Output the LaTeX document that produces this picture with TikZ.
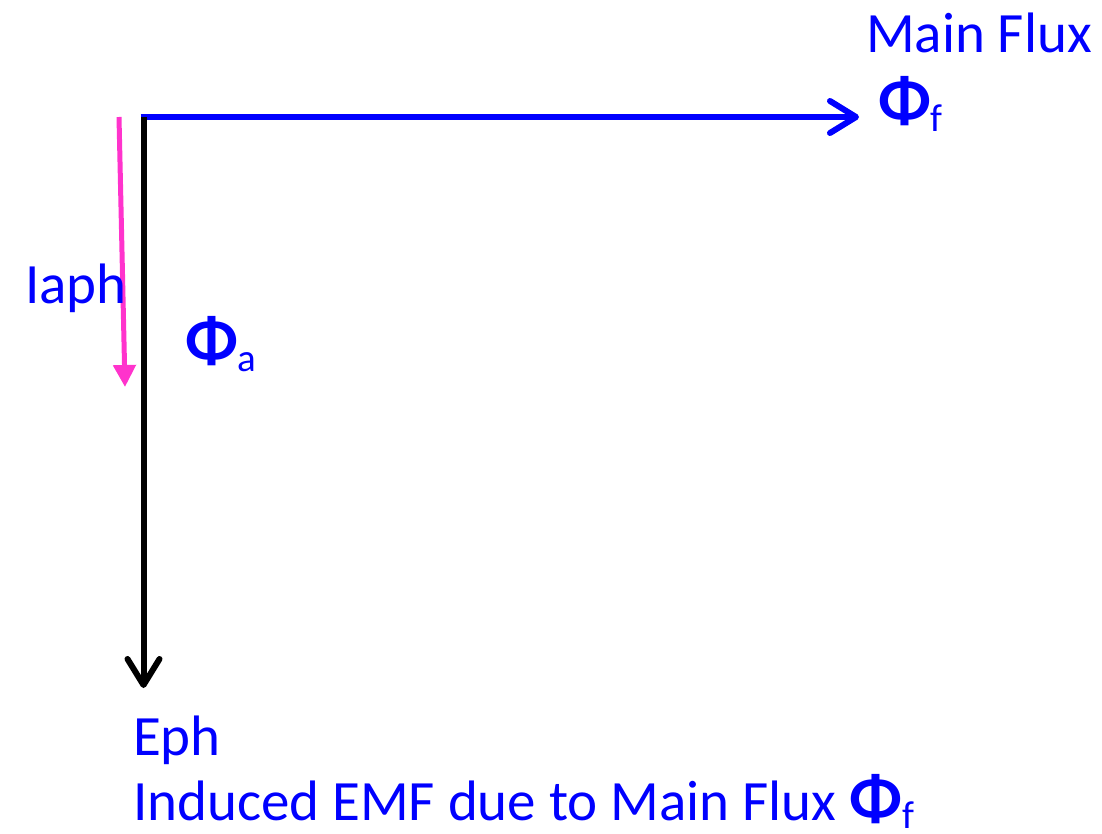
\documentclass[tikz,border=0pt]{standalone}
\usepackage{fontspec}
\setmainfont{Carlito}
\usetikzlibrary{arrows.meta}
\definecolor{fluxblue}{RGB}{0,0,255}
\definecolor{iapink}{RGB}{255,51,204}
\newcommand{\bigtxt}{\fontsize{57}{62}\selectfont}
\newcommand{\subtxt}{\fontsize{39}{40}\selectfont}
\newcommand{\Phisym}{{\fontsize{66}{70}\selectfont\bfseries Φ}}
\begin{document}
\begin{tikzpicture}[x=1pt,y=-1pt,
  lbl/.style={inner sep=0pt,outer sep=0pt,anchor=base west,font=\bigtxt,text=fluxblue},
  barb/.style={-{Straight Barb[length=26pt,width=32pt,line cap=round,line join=round]}},
  phasor/.style={line width=6pt},
]
\useasboundingbox (0,0) rectangle (1102,834);
\coordinate (o) at (143.5,117);
\coordinate (oh) at (140.5,117);
\coordinate (ftip) at (859,117);
\coordinate (etip) at (143.5,688);
\coordinate (p1) at (119,117);
\coordinate (p2) at (125,387);
% main flux
\draw[phasor,barb,draw=fluxblue] (oh) -- (ftip);
% induced emf
\draw[phasor,barb,draw=black] (o) -- (etip);
% armature current
\draw[line width=5pt,draw=iapink,-{Triangle[length=22pt,width=22pt]}] (p1) -- (p2);
% labels
\node[lbl] (mainflux) at (866,53) {Main Flux};
\node[lbl] (phif) at (878,123) {\Phisym\raisebox{-9pt}{\subtxt f}};
\node[lbl] (iaph) at (25,303) {Iaph};
\node[lbl] (phia) at (185,362) {\Phisym\raisebox{-9pt}{\subtxt a}};
\node[lbl] (eph) at (133,755) {Eph};
\node[lbl] (emf) at (133,820) {Induced EMF due to Main Flux \Phisym\raisebox{-8pt}{\subtxt f}};
\end{tikzpicture}
\end{document}
